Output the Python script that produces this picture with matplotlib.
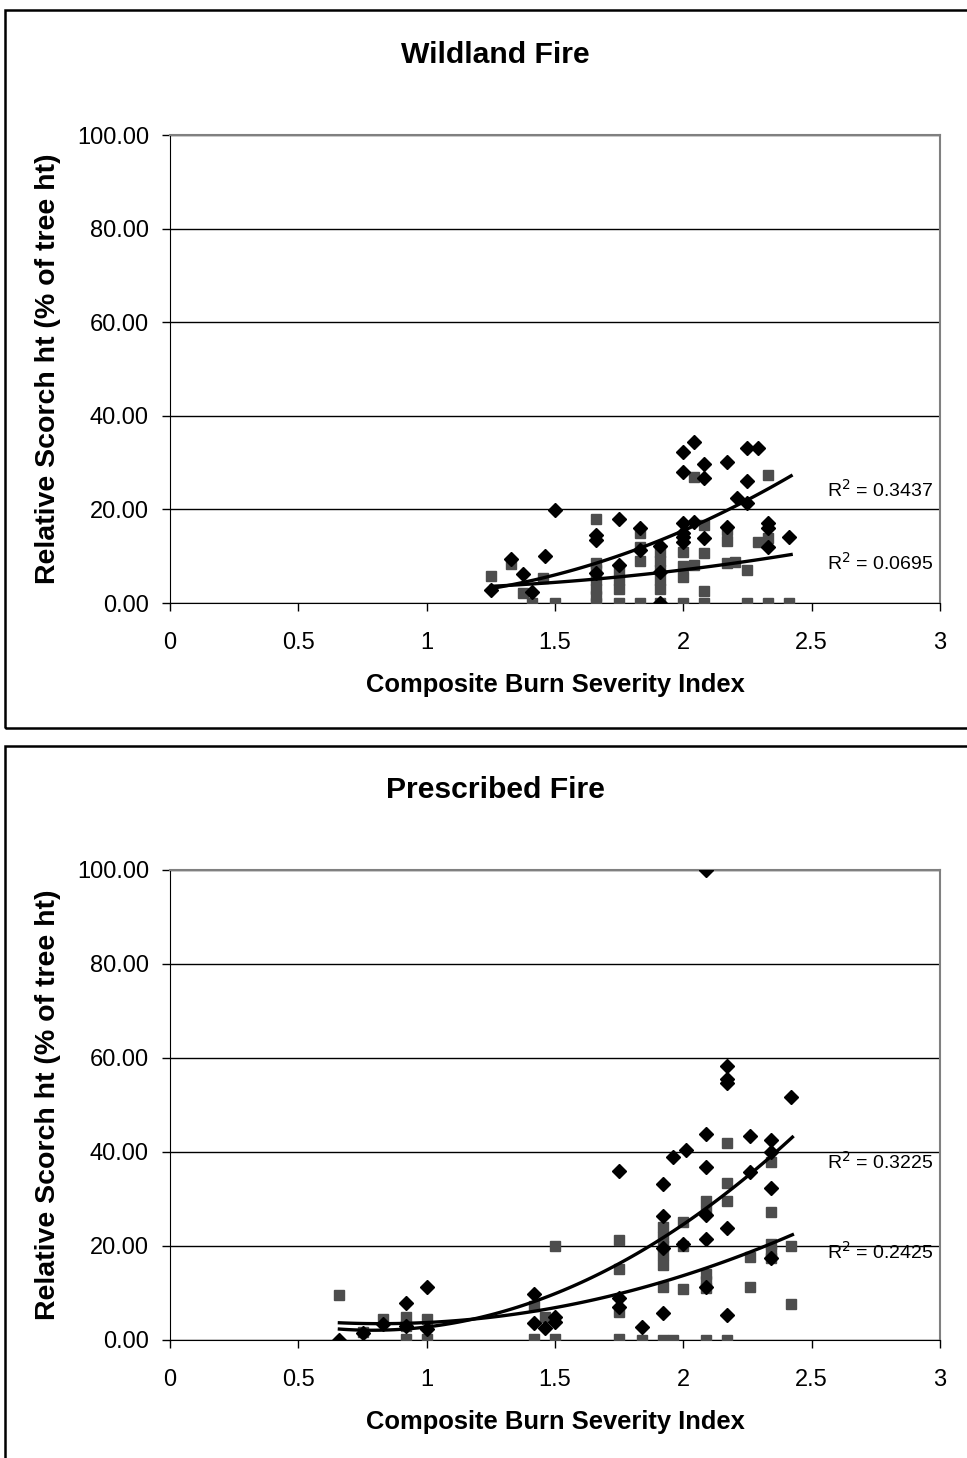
import matplotlib.pyplot as plt
import matplotlib.patches as patches
import numpy as np

plt.rcParams['font.family'] = ['Liberation Sans', 'DejaVu Sans']

# Wildland fire - diamonds
wild_d_x = [1.25, 1.33, 1.375, 1.41, 1.46, 1.50, 1.66, 1.66, 1.66, 1.75, 1.75, 1.83, 1.83,
            1.91, 1.91, 1.91, 2.0, 2.04, 2.0, 2.08, 2.08, 2.0, 2.0, 2.0, 2.0, 2.04, 2.08,
            2.17, 2.25, 2.29, 2.25, 2.21, 2.25, 2.17, 2.33, 2.33, 2.33, 2.41]
wild_d_y = [2.8, 9.5, 6.2, 2.4, 10.1, 19.9, 14.5, 13.5, 6.4, 17.9, 8.1, 16.0, 11.3,
            12.2, 6.7, 0.0, 32.3, 34.5, 28.0, 29.7, 26.7, 17.0, 15.0, 14.0, 13.0, 17.3, 13.9,
            30.1, 33.2, 33.2, 26.0, 22.4, 21.4, 16.2, 17.1, 16.0, 12.0, 14.2]

# Wildland fire - squares
wild_s_x = [1.25, 1.33, 1.375, 1.41, 1.455, 1.50, 1.66, 1.66, 1.66, 1.66, 1.66, 1.66, 1.66,
            1.75, 1.75, 1.75, 1.75, 1.83, 1.83, 1.83, 1.83, 1.91, 1.91, 1.91, 1.91, 1.91, 1.91,
            2.0, 2.0, 2.0, 2.0, 2.04, 2.04, 2.08, 2.08, 2.08, 2.08, 2.17, 2.17, 2.17,
            2.2, 2.25, 2.25, 2.29, 2.33, 2.33, 2.33, 2.41]
wild_s_y = [5.8, 8.3, 2.2, 0.0, 5.3, 0.0, 17.9, 8.5, 7.0, 5.0, 3.0, 1.5, 0.0,
            7.0, 5.0, 3.0, 0.0, 15.0, 12.0, 9.0, 0.0, 11.0, 9.0, 7.0, 5.0, 3.0, 0.0,
            11.0, 8.0, 5.5, 0.0, 27.0, 8.1, 16.7, 10.7, 2.5, 0.0, 15.7, 13.2, 8.5,
            8.8, 7.0, 0.0, 13.1, 27.3, 13.8, 0.0, 0.0]

# Prescribed fire - diamonds
presc_d_x = [0.66, 0.75, 0.83, 0.92, 0.92, 1.0, 1.0, 1.42, 1.42, 1.46, 1.50, 1.50,
             1.75, 1.75, 1.75, 1.84, 1.92, 1.92, 1.92, 1.92, 1.96, 2.01, 2.0,
             2.09, 2.09, 2.09, 2.09, 2.09, 2.09, 2.17, 2.17, 2.17, 2.17, 2.17,
             2.26, 2.26, 2.34, 2.34, 2.34, 2.34, 2.42]
presc_d_y = [0.0, 1.5, 3.5, 7.8, 3.0, 11.3, 2.3, 9.8, 3.7, 2.5, 5.0, 3.9,
             36.0, 9.0, 7.0, 2.8, 33.2, 26.4, 19.5, 5.7, 38.9, 40.4, 20.4,
             100.0, 43.8, 36.9, 26.6, 21.5, 11.3, 58.4, 55.5, 54.6, 23.9, 5.3,
             43.4, 35.8, 42.6, 40.1, 32.4, 17.4, 51.8]

# Prescribed fire - squares
presc_s_x = [0.66, 0.75, 0.83, 0.92, 0.92, 0.92, 1.0, 1.0, 1.42, 1.42, 1.46, 1.50, 1.50,
             1.75, 1.75, 1.75, 1.75, 1.84, 1.92, 1.92, 1.92, 1.92, 1.92, 1.92, 1.92, 1.96,
             2.0, 2.0, 2.0, 2.09, 2.09, 2.09, 2.09, 2.09, 2.09,
             2.17, 2.17, 2.17, 2.17, 2.26, 2.26, 2.34, 2.34, 2.34, 2.34, 2.34, 2.42, 2.42]
presc_s_y = [9.6, 1.8, 4.4, 5.0, 3.0, 0.3, 4.5, 0.3, 7.2, 0.3, 4.8, 20.1, 0.3,
             21.3, 15.2, 6.0, 0.2, 0.0, 24.0, 22.0, 20.0, 18.0, 16.0, 11.3, 0.0, 0.0,
             25.2, 19.9, 10.8, 29.5, 27.5, 14.0, 12.5, 11.0, 0.0,
             42.0, 33.5, 29.6, 0.0, 17.6, 11.2, 37.8, 27.3, 20.5, 19.0, 17.5, 19.9, 7.6]

# trendline values (2nd order polynomial trendlines)
wild_trend_d_x = [1.25, 1.66, 1.91, 2.08, 2.195, 2.42]
wild_trend_d_y = [3.1, 8.8, 12.4, 17.7, 21.3, 26.8]
wild_trend_s_x = [1.25, 1.52, 1.91, 2.1, 2.42]
wild_trend_s_y = [3.7, 4.2, 6.7, 7.8, 10.3]
presc_trend_d_x = [0.66, 1.0, 1.234, 1.422, 1.675, 1.92, 2.088, 2.26, 2.425]
presc_trend_d_y = [2.5, 2.8, 4.6, 8.5, 13.8, 22.0, 28.0, 36.2, 42.4]
presc_trend_s_x = [0.66, 1.0, 1.234, 1.422, 1.675, 1.92, 2.088, 2.26, 2.425]
presc_trend_s_y = [3.7, 3.6, 4.6, 6.7, 8.5, 12.1, 15.6, 18.8, 22.3]

titles = ["Wildland Fire", "Prescribed Fire"]
r2_labels = [("R$^2$ = 0.3437", "R$^2$ = 0.0695"), ("R$^2$ = 0.3225", "R$^2$ = 0.2425")]
r2_pos = [((2.56, 24.1), (2.56, 8.5)), ((2.56, 37.9), (2.56, 18.7))]
yticks = [0, 20, 40, 60, 80, 100]
xticks = [0, 0.5, 1, 1.5, 2, 2.5, 3]
xtick_labels = ["0", "0.5", "1", "1.5", "2", "2.5", "3"]

fig = plt.figure(figsize=(9.67, 14.58), dpi=100)

# chart frames
fig.patches.append(patches.Rectangle((5/967, 1-728/1458), 1.05, 718/1458, transform=fig.transFigure,
                                     fill=False, edgecolor='black', linewidth=1.8))
fig.patches.append(patches.Rectangle((5/967, -0.05), 1.05, 0.05 + 1-746/1458, transform=fig.transFigure,
                                     fill=False, edgecolor='black', linewidth=1.8))

ax1 = fig.add_axes([170/967, 1-603/1458, 770/967, 468/1458])
ax2 = fig.add_axes([170/967, 1-1340/1458, 770/967, 470/1458])

datasets = [(wild_d_x, wild_d_y, wild_s_x, wild_s_y), (presc_d_x, presc_d_y, presc_s_x, presc_s_y)]
trends = [[(wild_trend_d_x, wild_trend_d_y), (wild_trend_s_x, wild_trend_s_y)],
          [(presc_trend_d_x, presc_trend_d_y), (presc_trend_s_x, presc_trend_s_y)]]
title_y = [1-55/1458, 1-790/1458]

for i, ax in enumerate([ax1, ax2]):
    dx, dy, sx, sy = datasets[i]
    ax.plot(sx, sy, 's', color='#4d4d4d', markersize=7.5, zorder=3)
    ax.plot(dx, dy, 'D', color='black', markersize=6.8, zorder=4)
    for tx, ty in trends[i]:
        c = np.polyfit(tx, ty, 2)
        xx = np.linspace(tx[0], tx[-1], 100)
        ax.plot(xx, np.polyval(c, xx), color='black', linewidth=2.4, zorder=5)
    for lab, pos in zip(r2_labels[i], r2_pos[i]):
        ax.text(pos[0], pos[1], lab, fontsize=14, ha='left', va='center')
    ax.set_xlim(0, 3)
    ax.set_ylim(0, 100)
    ax.set_yticks(yticks)
    ax.set_yticklabels(["%.2f" % v for v in yticks])
    ax.set_xticks(xticks)
    ax.set_xticklabels(xtick_labels)
    ax.tick_params(axis='both', labelsize=17, length=5.8, width=1, direction='out')
    ax.tick_params(axis='x', pad=15)
    ax.tick_params(axis='y', pad=9.4)
    ax.grid(axis='y', color='black', linewidth=1)
    ax.set_axisbelow(True)
    for s in ['top', 'right']:
        ax.spines[s].set_color('#808080')
        ax.spines[s].set_linewidth(1.5)
    for s in ['left', 'bottom']:
        ax.spines[s].set_color('black')
    ax.set_xlabel("Composite Burn Severity Index", fontsize=18.4, fontweight='bold', labelpad=14)
    ax.set_ylabel("Relative Scorch ht (% of tree ht)", fontsize=20.5, fontweight='bold', labelpad=11.5)
    fig.text(495/967, title_y[i], titles[i], fontsize=21.7, fontweight='bold', ha='center', va='center')

fig.savefig("out.png", dpi=100)
